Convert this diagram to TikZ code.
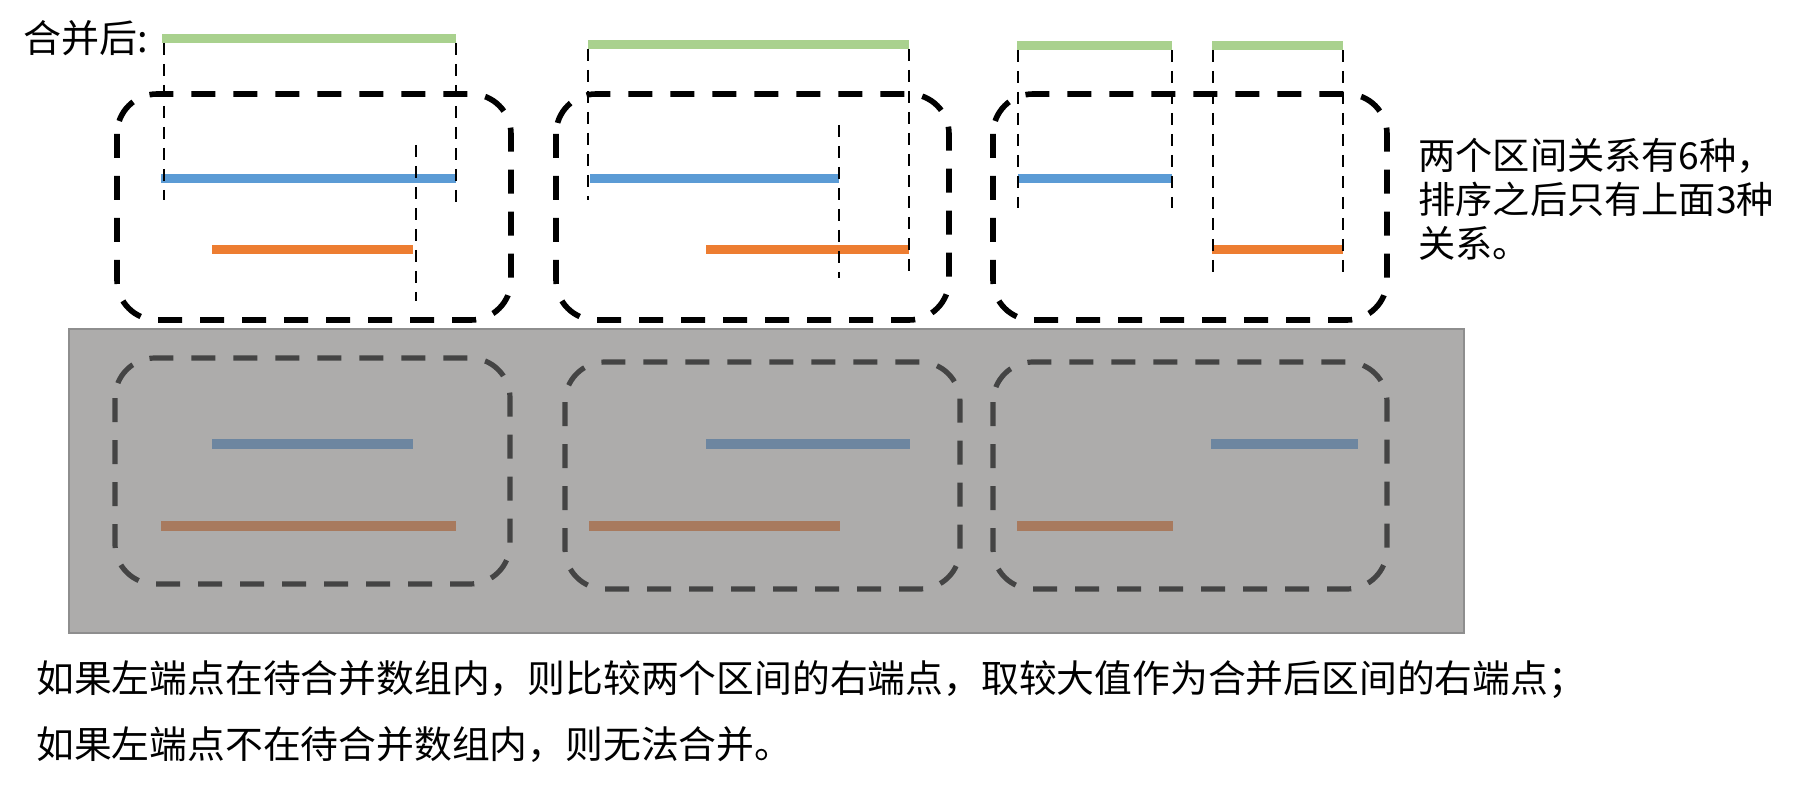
\documentclass[tikz,border=0pt]{standalone}
\usepackage{fontspec}
\setmainfont{Noto Sans CJK SC}
\begin{document}
\begin{tikzpicture}[x=0.5pt,y=-0.5pt,
  bbox/.style={draw=black,line width=2.8pt,dash pattern=on 12pt off 9pt,rounded corners=20pt},
  gbox/.style={draw=dkgray,line width=2.6pt,dash pattern=on 12pt off 9pt,rounded corners=20pt},
  guide/.style={draw=black,line width=1.3pt,dash pattern=on 6pt off 4.5pt},
  seg/.style={line width=4.6pt,line cap=butt},
  txt/.style={font=\fontsize{18.6pt}{22pt}\selectfont,inner sep=0pt,text=black}]
\definecolor{mgreen}{HTML}{A9D18E}
\definecolor{mblue}{HTML}{5B9BD5}
\definecolor{morange}{HTML}{ED7D31}
\definecolor{gblue}{HTML}{6D86A0}
\definecolor{gorange}{HTML}{A87A5E}
\definecolor{gfill}{HTML}{ADACAB}
\definecolor{gedge}{HTML}{8E8E8E}
\definecolor{dkgray}{HTML}{444444}
\useasboundingbox (0,0) rectangle (1800,791);
% top boxes
\draw[bbox] (117,94) rectangle (511,320);
\draw[bbox] (556,94) rectangle (949,320);
\draw[bbox] (993,94) rectangle (1387,320);
% case 1
\draw[seg,mgreen] (162,38.5) -- (456,38.5);
\draw[seg,mblue] (161,178.5) -- (456,178.5);
\draw[seg,morange] (212,249.5) -- (413,249.5);
\draw[guide] (164,43) -- (164,200);
\draw[guide] (456,43) -- (456,203);
\draw[guide] (416,145) -- (416,301);
% case 2
\draw[seg,mgreen] (588,44.5) -- (909,44.5);
\draw[seg,mblue] (590,178.5) -- (839,178.5);
\draw[seg,morange] (706,249.5) -- (909,249.5);
\draw[guide] (588,49) -- (588,200);
\draw[guide] (909,49) -- (909,277);
\draw[guide] (839,125) -- (839,278);
% case 3
\draw[seg,mgreen] (1017,45.5) -- (1172,45.5);
\draw[seg,mgreen] (1212,45.5) -- (1343,45.5);
\draw[seg,mblue] (1018,178.5) -- (1172,178.5);
\draw[seg,morange] (1212,249.5) -- (1343,249.5);
\draw[guide] (1018,50) -- (1018,208);
\draw[guide] (1172,50) -- (1172,208);
\draw[guide] (1213,50) -- (1213,277);
\draw[guide] (1343,50) -- (1343,277);
% gray panel
\draw[fill=gfill,draw=gedge,line width=1.2pt] (69,329) rectangle (1464,633);
\draw[gbox] (115,358) rectangle (510,584);
\draw[gbox] (565,362) rectangle (960,589);
\draw[gbox] (993,362) rectangle (1387,589);
\draw[seg,gblue] (212,444) -- (413,444);
\draw[seg,gblue] (706,444) -- (910,444);
\draw[seg,gblue] (1211,444) -- (1358,444);
\draw[seg,gorange] (161,526) -- (456,526);
\draw[seg,gorange] (589,526) -- (840,526);
\draw[seg,gorange] (1017,526) -- (1173,526);
% texts
\node[txt,anchor=west,font=\fontsize{19pt}{22pt}\selectfont] (merged) at (23,38) {合并后:};
\node[txt,anchor=west,align=left] (note) at (1418,199) {两个区间关系有6种，\\排序之后只有上面3种\\关系。};
\node[txt,anchor=west,font=\fontsize{18.9pt}{22pt}\selectfont] (rule1) at (36,680) {如果左端点在待合并数组内，则比较两个区间的右端点，取较大值作为合并后区间的右端点；};
\node[txt,anchor=west,font=\fontsize{18.9pt}{22pt}\selectfont] (rule2) at (36,745) {如果左端点不在待合并数组内，则无法合并。};
\end{tikzpicture}
\end{document}
